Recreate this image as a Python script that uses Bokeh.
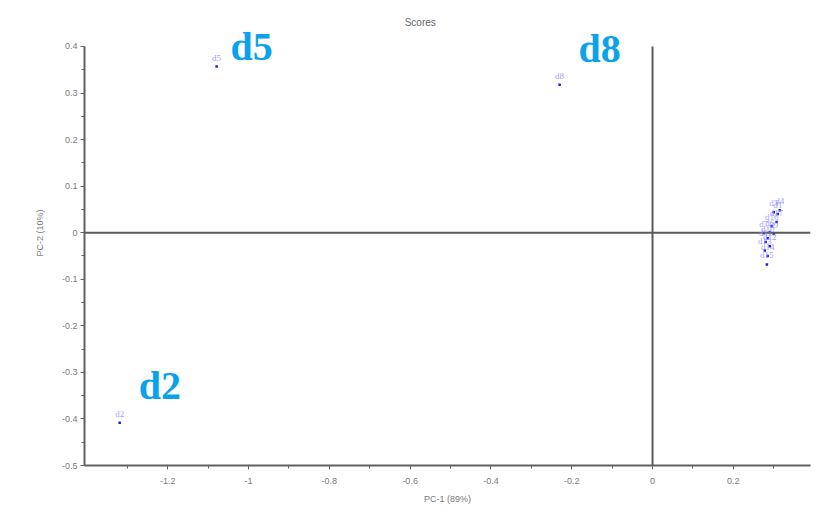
from bokeh.plotting import figure
from bokeh.models import (Range1d, FixedTicker, Span, ColumnDataSource, LabelSet, Label,
                          CustomJSTickFormatter)
from bokeh.embed import file_html
from bokeh.resources import INLINE

# ---- data ----
names = ["d2", "d5", "d8",
         "d1", "d3", "d4", "d6", "d7", "d9", "d10", "d11", "d12", "d13", "d14", "d15", "d16", "d17"]
pc1 = [-1.319, -1.079, -0.230,
       0.310, 0.300, 0.315, 0.290, 0.275, 0.300, 0.285, 0.280, 0.290, 0.278, 0.285, 0.283, 0.295, 0.307]
pc2 = [-0.408, 0.357, 0.318,
       0.040, 0.044, 0.048, 0.001, -0.001, -0.003, -0.012, -0.020, -0.029, -0.038, -0.050, -0.068, 0.014, 0.023]

x_major = [-1.2, -1.0, -0.8, -0.6, -0.4, -0.2, 0.0, 0.2]
x_minor = [-1.3, -1.1, -0.9, -0.7, -0.5, -0.3, -0.1, 0.1, 0.3]
y_major = [-0.5, -0.4, -0.3, -0.2, -0.1, 0.0, 0.1, 0.2, 0.3, 0.4]
y_minor = [-0.45, -0.35, -0.25, -0.15, -0.05, 0.05, 0.15, 0.25, 0.35]

title_text = "Scores"
x_title = "PC-1 (89%)"
y_title = "PC-2 (10%)"

highlight = ["d5", "d8", "d2"]
highlight_offsets = {"d5": (14, 20), "d8": (19, 36), "d2": (19, 37)}

# frame reaches the top of the canvas so that the big labels are not clipped;
# the axis itself is bounded to the tick range
y_top = y_major[-1] + 46 / 465.6
p = figure(width=813, height=519, output_backend="svg", toolbar_location=None,
           x_range=Range1d(-1.406, 0.391), y_range=Range1d(y_major[0], y_top),
           min_border_left=84, min_border_right=3, min_border_top=0, min_border_bottom=54)
p.outline_line_color = None
p.grid.visible = False
p.background_fill_color = "white"
p.border_fill_color = "white"

fmt = CustomJSTickFormatter(code="return String(Math.round(tick*100)/100);")
p.xaxis.ticker = FixedTicker(ticks=x_major, minor_ticks=x_minor)
p.yaxis.ticker = FixedTicker(ticks=y_major, minor_ticks=y_minor)
p.yaxis.bounds = (y_major[0], y_major[-1])
p.xaxis.formatter = fmt
p.yaxis.formatter = fmt
p.xaxis.axis_label = x_title
p.yaxis.axis_label = y_title
for ax in (p.xaxis, p.yaxis):
    ax.axis_line_color = "#606060"
    ax.axis_line_width = 2
    ax.major_tick_line_color = "#606060"
    ax.minor_tick_line_color = "#606060"
    ax.major_tick_out = 4
    ax.major_tick_in = 0
    ax.minor_tick_out = 3
    ax.minor_tick_in = 0
    ax.major_label_text_font = "Liberation Sans"
    ax.major_label_text_font_size = "9px"
    ax.major_label_text_color = "#7a7a7a"
    ax.axis_label_text_font = "Liberation Sans"
    ax.axis_label_text_font_size = "9px"
    ax.axis_label_text_font_style = "normal"
    ax.axis_label_text_color = "#7a7a7a"
p.yaxis.major_label_standoff = 3
p.yaxis.axis_label_standoff = 14
p.xaxis.major_label_standoff = 8
p.xaxis.axis_label_standoff = 7

# title, centred above the plot
p.add_layout(Label(x=-0.575, y=y_major[-1] + 24 / 465.6, text=title_text,
                   text_align="center", text_baseline="middle",
                   text_font="Liberation Sans", text_font_size="10px", text_color="#666666"))

# zero lines
p.segment(x0=[0], y0=[y_major[0]], x1=[0], y1=[y_major[-1]], line_color="#5a5a5a", line_width=2)
p.add_layout(Span(location=0, dimension="width", line_color="#5a5a5a", line_width=2))

src = ColumnDataSource(dict(x=pc1, y=pc2, name=names))
p.add_layout(LabelSet(x="x", y="y", text="name", source=src, x_offset=0, y_offset=4,
                      text_align="center", text_baseline="bottom",
                      text_font="Liberation Sans", text_font_size="9px",
                      text_color="#8c8cff", text_alpha=0.85))
p.scatter("x", "y", source=src, size=2.5, marker="square", color="#1a1aff", line_width=0)

for nm in highlight:
    i = names.index(nm)
    dx, dy = highlight_offsets[nm]
    p.add_layout(Label(x=pc1[i], y=pc2[i], text=nm, x_offset=dx, y_offset=dy,
                       text_font="Liberation Serif", text_font_style="bold",
                       text_font_size="40px", text_color="#0aa2ea",
                       text_align="left", text_baseline="alphabetic"))

open("out.html", "w").write(file_html(p, INLINE))
